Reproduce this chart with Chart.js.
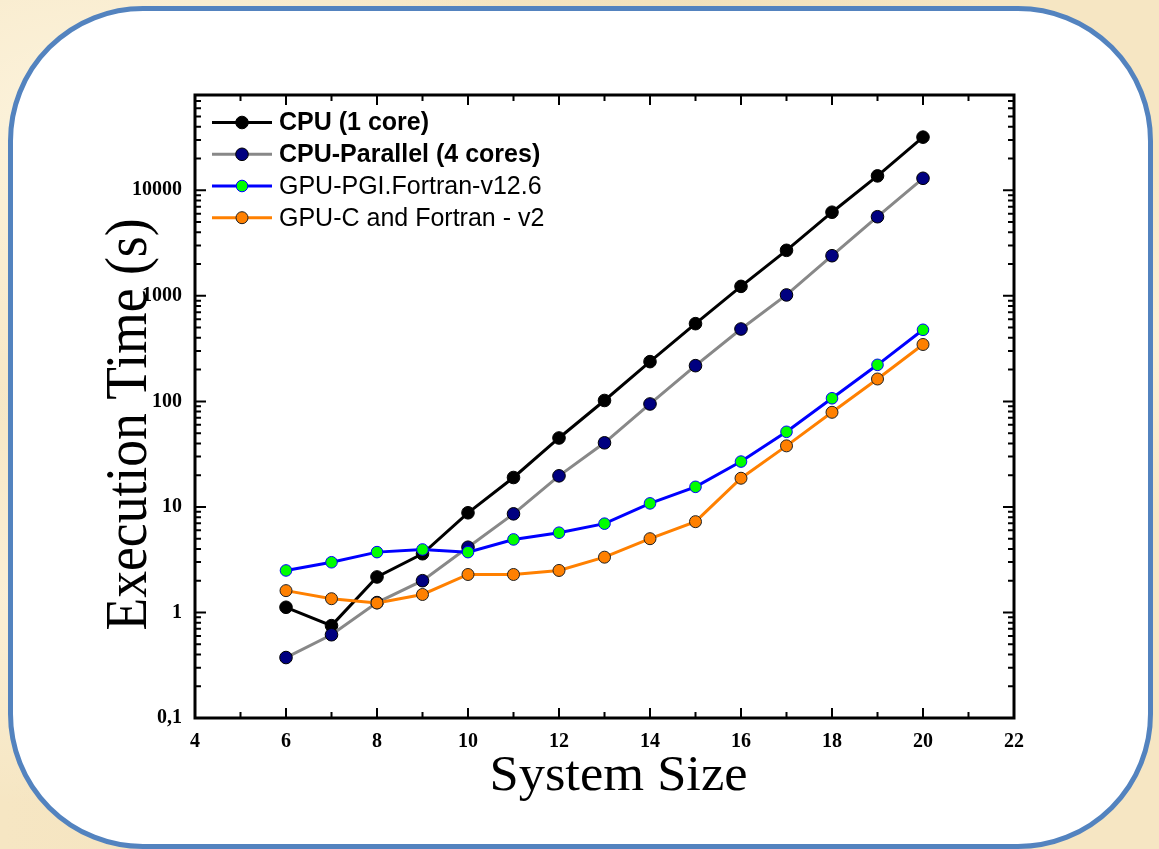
<!DOCTYPE html>
<html>
<head>
<meta charset="utf-8">
<script src="https://cdn.jsdelivr.net/npm/chart.js@4.4.0/dist/chart.umd.min.js"></script>
<style>
html,body{margin:0;padding:0;width:1159px;height:849px;overflow:hidden;}
body{
  background-color:#f6e6c3;
  background-image:
    radial-gradient(ellipse at 8% 15%, rgba(255,249,232,0.7), rgba(255,249,232,0) 30%),
    radial-gradient(ellipse at 3% 70%, rgba(255,247,228,0.55), rgba(255,247,228,0) 25%),
    radial-gradient(ellipse at 95% 40%, rgba(255,248,230,0.55), rgba(255,248,230,0) 25%),
    radial-gradient(ellipse at 60% 2%, rgba(240,222,182,0.6), rgba(240,222,182,0) 30%),
    radial-gradient(ellipse at 30% 99%, rgba(242,224,186,0.6), rgba(242,224,186,0) 30%);
}
#box{position:absolute;left:8px;top:6px;width:1145px;height:843px;box-sizing:border-box;
  border:5px solid #5383bf;border-radius:135px;background:#ffffff;}
#c{position:absolute;left:0;top:0;}
</style>
</head>
<body>
<div id="box"></div>
<canvas id="c" width="1159" height="849"></canvas>
<script>
// ---- data ----
const systemSize = [6, 7, 8, 9, 10, 11, 12, 13, 14, 15, 16, 17, 18, 19, 20];
const cpuOneCore = [1.12, 0.75, 2.17, 3.6, 8.8, 19.0, 45, 102, 238, 545, 1230, 2700, 6200, 13700, 31900];
const cpuParallel = [0.374, 0.615, 1.24, 2.0, 4.15, 8.6, 19.7, 40.5, 94.5, 218, 485, 1020, 2400, 5620, 13000];
const gpuPGI = [2.5, 2.99, 3.73, 3.95, 3.73, 4.92, 5.7, 6.94, 10.8, 15.5, 26.9, 51.5, 107, 222, 477];
const gpuCFortran = [1.61, 1.35, 1.23, 1.48, 2.29, 2.29, 2.5, 3.34, 5.0, 7.25, 18.7, 37.9, 78.8, 163, 346];
const seriesNames = ['CPU (1 core)', 'CPU-Parallel (4 cores)', 'GPU-PGI.Fortran-v12.6', 'GPU-C and Fortran - v2'];
const xTickValues = [4, 6, 8, 10, 12, 14, 16, 18, 20, 22];
const yTickValues = [0.1, 1, 10, 100, 1000, 10000];
const yTickLabels = ['0,1', '1', '10', '100', '1000', '10000'];
const xTitle = 'System Size';
const yTitle = 'Execution Time (s)';

const toXY = arr => arr.map((v, i) => ({x: systemSize[i], y: v}));
const SERIF = '"Liberation Serif", "Times New Roman", serif';

const frameTicks = {
  id: 'frameTicks',
  afterDraw(chart) {
    const {ctx, chartArea: a, scales: {x, y}} = chart;
    ctx.save();
    ctx.strokeStyle = '#000';
    ctx.lineWidth = 2;
    ctx.beginPath();
    for (let v = Math.ceil(x.min); v <= x.max; v++) {
      const px = x.getPixelForValue(v);
      const len = (v % 2 === 0) ? 10 : 6;
      ctx.moveTo(px, a.bottom); ctx.lineTo(px, a.bottom - len);
      ctx.moveTo(px, a.top); ctx.lineTo(px, a.top + len);
    }
    for (let e = -1; e <= 5; e++) {
      for (let m = 1; m <= 9; m++) {
        const v = m * Math.pow(10, e);
        if (v < y.min - 1e-9 || v > y.max + 1e-9) continue;
        const py = y.getPixelForValue(v);
        const len = (m === 1) ? 11 : 6;
        ctx.moveTo(a.left, py); ctx.lineTo(a.left + len, py);
        ctx.moveTo(a.right, py); ctx.lineTo(a.right - len, py);
      }
    }
    ctx.stroke();
    ctx.lineWidth = 3;
    ctx.strokeRect(a.left, a.top, a.right - a.left, a.bottom - a.top);
    ctx.restore();
  }
};

function fittedText(ctx, text, font, cx, cy, rot, targetLen) {
  ctx.save();
  ctx.translate(cx, cy);
  ctx.rotate(rot);
  ctx.font = font;
  const w = ctx.measureText(text).width;
  ctx.scale(targetLen / w, 1);
  ctx.textAlign = 'center';
  ctx.textBaseline = 'alphabetic';
  ctx.fillStyle = '#000';
  ctx.fillText(text, 0, 0);
  ctx.restore();
}

const axisTitles = {
  id: 'axisTitles',
  afterDraw(chart) {
    const {ctx, chartArea: a} = chart;
    const midX = (a.left + a.right) / 2, midY = (a.top + a.bottom) / 2;
    fittedText(ctx, xTitle, '50px ' + SERIF, midX + 14, a.bottom + 72, 0, 258);
    fittedText(ctx, yTitle, '60px ' + SERIF, a.left - 49, midY + 18, -Math.PI / 2, 412);
  }
};

const customLegend = {
  id: 'customLegend',
  afterDraw(chart) {
    const {ctx, chartArea: a} = chart;
    const rows = [27.5, 59.3, 91, 122.7];
    ctx.save();
    chart.data.datasets.forEach((ds, i) => {
      const cy = a.top + rows[i];
      const x0 = a.left + 17, x1 = a.left + 77, xm = a.left + 47;
      ctx.strokeStyle = ds.borderColor;
      ctx.lineWidth = 3;
      ctx.beginPath(); ctx.moveTo(x0, cy); ctx.lineTo(x1, cy); ctx.stroke();
      ctx.beginPath();
      ctx.arc(xm, cy, ds.pointRadius, 0, Math.PI * 2);
      ctx.fillStyle = ds.pointBackgroundColor; ctx.fill();
      ctx.lineWidth = ds.pointBorderWidth; ctx.strokeStyle = ds.pointBorderColor; ctx.stroke();
      ctx.fillStyle = '#000';
      ctx.font = (i < 2 ? 'bold ' : '') + '25px "Liberation Sans", Arial, sans-serif';
      ctx.textBaseline = 'middle';
      ctx.textAlign = 'left';
      ctx.fillText(ds.label, a.left + 84, cy + 1);
    });
    ctx.restore();
  }
};

const mk = (label, data, line, fill, border, r, order) => ({
  label, data: toXY(data), borderColor: line, borderWidth: 3,
  pointBackgroundColor: fill, pointBorderColor: border, pointBorderWidth: 1,
  pointRadius: r, tension: 0, fill: false, order
});

new Chart(document.getElementById('c'), {
  type: 'line',
  data: {
    datasets: [
      mk(seriesNames[0], cpuOneCore, '#000000', '#000000', '#000000', 6.3, 4),
      mk(seriesNames[1], cpuParallel, '#888888', '#000080', '#000000', 6.3, 3),
      mk(seriesNames[2], gpuPGI, '#0000ff', '#00ff00', '#0000ff', 5.8, 2),
      mk(seriesNames[3], gpuCFortran, '#ff8000', '#ff8000', '#202020', 6.0, 1)
    ]
  },
  options: {
    responsive: false,
    animation: false,
    devicePixelRatio: 1,
    layout: {padding: {left: 0, top: 95, right: 145, bottom: 0}},
    plugins: {legend: {display: false}, tooltip: {enabled: false}},
    scales: {
      x: {
        type: 'linear', min: 4, max: 22,
        afterBuildTicks: s => { s.ticks = xTickValues.map(v => ({value: v})); },
        afterFit: s => { s.height = 131; },
        grid: {display: false, drawTicks: false},
        border: {display: false},
        ticks: {color: '#000', padding: 12, maxRotation: 0, autoSkip: false,
          font: {family: SERIF, size: 20, weight: 'bold'}},
        title: {display: false, text: xTitle}
      },
      y: {
        type: 'logarithmic', min: 0.1, max: 80000,
        afterBuildTicks: s => { s.ticks = yTickValues.map(v => ({value: v})); },
        afterFit: s => { s.width = 195; },
        grid: {display: false, drawTicks: false},
        border: {display: false},
        ticks: {color: '#000', padding: 13, autoSkip: false,
          callback: (v) => { const i = yTickValues.findIndex(t => Math.abs(t - v) < 1e-9 * Math.max(1, t)); return i >= 0 ? yTickLabels[i] : ''; },
          font: {family: SERIF, size: 20, weight: 'bold'}},
        title: {display: false, text: yTitle}
      }
    }
  },
  plugins: [frameTicks, customLegend, axisTitles]
});
</script>
</body>
</html>
